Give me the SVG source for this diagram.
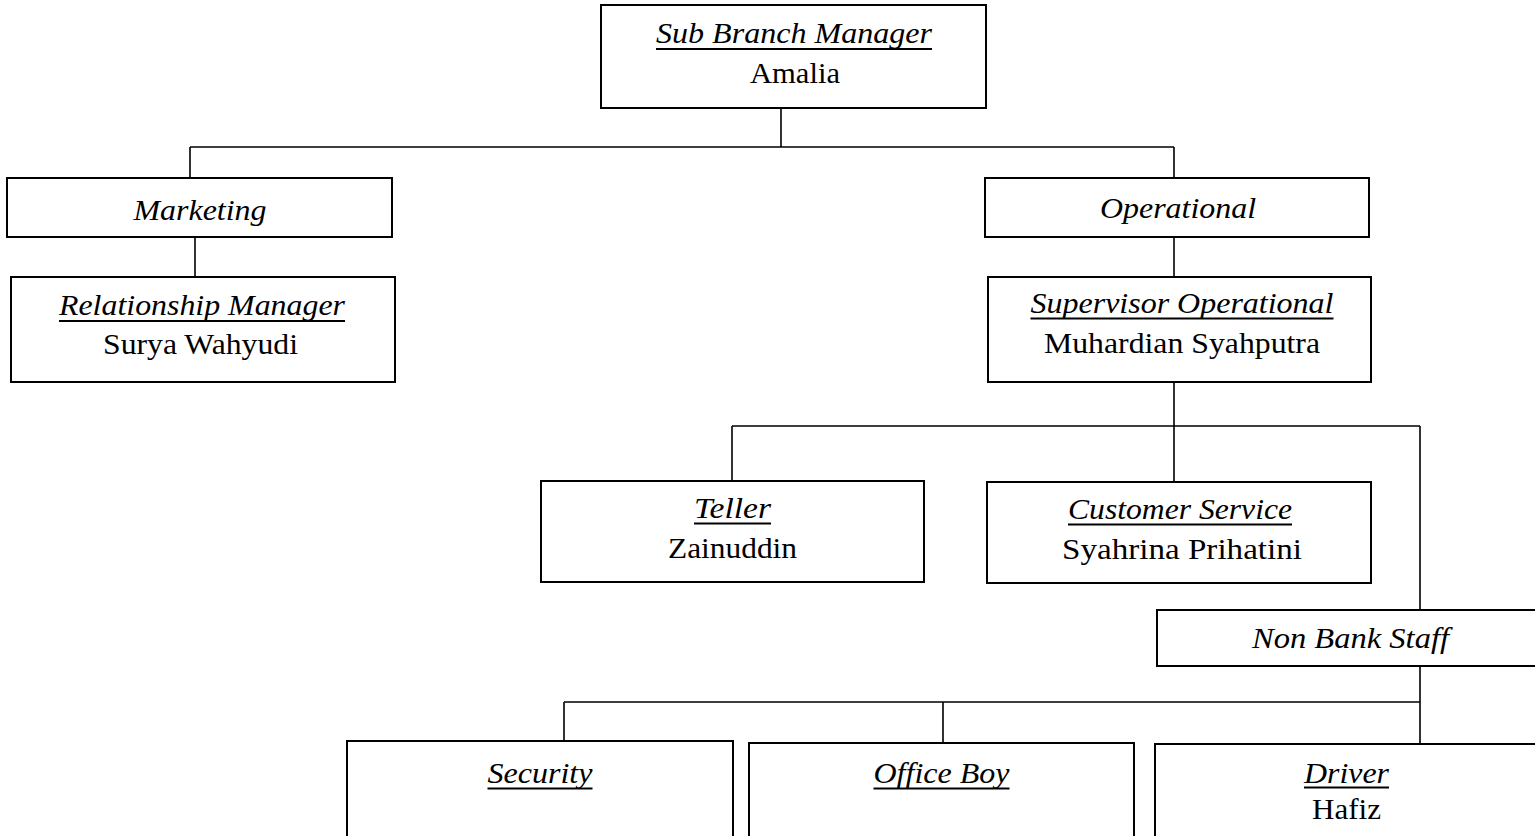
<svg xmlns="http://www.w3.org/2000/svg" width="1535" height="836" viewBox="0 0 1535 836">
<style>
.box{fill:#fff;stroke:#000;stroke-width:2}
.ln{fill:none;stroke:#000;stroke-width:1.6}
.ul{stroke:#000;stroke-width:2}
text{font-family:"Liberation Serif","Times New Roman",serif;font-size:28.5px;fill:#000;text-anchor:middle}
.t{font-style:italic}
</style>
<rect width="1535" height="836" fill="#fff"/>
<g id="connectors">
<path class="ln" d="M781,108V147M190,147H1174M190,147V178M1174,147V178"/>
<path class="ln" d="M195,237V277"/>
<path class="ln" d="M1174,237V277"/>
<path class="ln" d="M1174,382V482M732,426H1420M732,426V481M1420,426V610"/>
<path class="ln" d="M1420,666V743M564,702H1420M564,702V741M943,702V743"/>
</g>
<g id="sub-branch-manager">
<rect class="box" x="601" y="5" width="385" height="103"/>
<text x="794" y="43.3" class="t" textLength="276" lengthAdjust="spacingAndGlyphs">Sub Branch Manager</text>
<line class="ul" x1="656" y1="49" x2="932" y2="49"/>
<text x="795" y="82.7" textLength="90" lengthAdjust="spacingAndGlyphs">Amalia</text>
</g>
<g id="marketing">
<rect class="box" x="7" y="178" width="385" height="59"/>
<text x="200" y="220" class="t" textLength="133" lengthAdjust="spacingAndGlyphs">Marketing</text>
</g>
<g id="relationship-manager">
<rect class="box" x="11" y="277" width="384" height="105"/>
<text x="202" y="315" class="t" textLength="286" lengthAdjust="spacingAndGlyphs">Relationship Manager</text>
<line class="ul" x1="59" y1="321" x2="345" y2="321"/>
<text x="200.5" y="354" textLength="195" lengthAdjust="spacingAndGlyphs">Surya Wahyudi</text>
</g>
<g id="operational">
<rect class="box" x="985" y="178" width="384" height="59"/>
<text x="1178" y="218" class="t" textLength="156" lengthAdjust="spacingAndGlyphs">Operational</text>
</g>
<g id="supervisor-operational">
<rect class="box" x="988" y="277" width="383" height="105"/>
<text x="1182" y="312.7" class="t" textLength="303" lengthAdjust="spacingAndGlyphs">Supervisor Operational</text>
<line class="ul" x1="1030.5" y1="318.5" x2="1333.5" y2="318.5"/>
<text x="1182" y="353.3" textLength="276" lengthAdjust="spacingAndGlyphs">Muhardian Syahputra</text>
</g>
<g id="teller">
<rect class="box" x="541" y="481" width="383" height="101"/>
<text x="732.5" y="517.7" class="t" textLength="77" lengthAdjust="spacingAndGlyphs">Teller</text>
<line class="ul" x1="694" y1="523.5" x2="771" y2="523.5"/>
<text x="732.5" y="558" textLength="129" lengthAdjust="spacingAndGlyphs">Zainuddin</text>
</g>
<g id="customer-service">
<rect class="box" x="987" y="482" width="384" height="101"/>
<text x="1180" y="519.3" class="t" textLength="224" lengthAdjust="spacingAndGlyphs">Customer Service</text>
<line class="ul" x1="1068" y1="524.5" x2="1292" y2="524.5"/>
<text x="1182" y="559.3" textLength="240" lengthAdjust="spacingAndGlyphs">Syahrina Prihatini</text>
</g>
<g id="non-bank-staff">
<rect class="box" x="1157" y="610" width="386" height="56"/>
<text x="1350.5" y="648" class="t" textLength="197" lengthAdjust="spacingAndGlyphs">Non Bank Staff</text>
</g>
<g id="security">
<rect class="box" x="347" y="741" width="386" height="110"/>
<text x="540" y="783" class="t" textLength="105" lengthAdjust="spacingAndGlyphs">Security</text>
<line class="ul" x1="487.5" y1="788.5" x2="592.5" y2="788.5"/>
</g>
<g id="office-boy">
<rect class="box" x="749" y="743" width="385" height="110"/>
<text x="941.5" y="783" class="t" textLength="136" lengthAdjust="spacingAndGlyphs">Office Boy</text>
<line class="ul" x1="873.5" y1="788.5" x2="1009.5" y2="788.5"/>
</g>
<g id="driver">
<rect class="box" x="1155" y="744" width="388" height="110"/>
<text x="1346.5" y="782.7" class="t" textLength="85" lengthAdjust="spacingAndGlyphs">Driver</text>
<line class="ul" x1="1304" y1="787.5" x2="1389" y2="787.5"/>
<text x="1346.5" y="819" textLength="69" lengthAdjust="spacingAndGlyphs">Hafiz</text>
</g>
</svg>
